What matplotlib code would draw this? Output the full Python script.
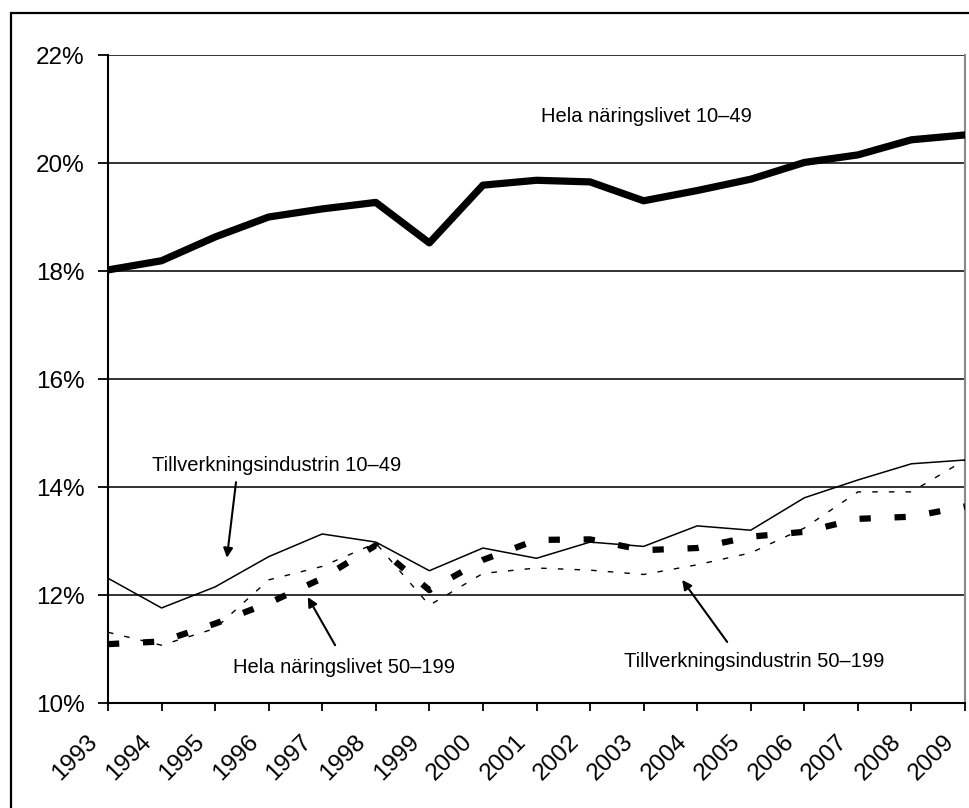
import numpy as np
import matplotlib.pyplot as plt
from matplotlib.patches import Rectangle
from matplotlib.transforms import ScaledTranslation

plt.rcParams['font.family'] = ['Liberation Sans', 'DejaVu Sans']

years = list(range(1993, 2010))

# andel (%) per serie
hela_10_49 = [18.02, 18.19, 18.63, 19.00, 19.15, 19.27, 18.52, 19.59, 19.68, 19.65,
              19.30, 19.49, 19.70, 20.01, 20.15, 20.43, 20.52]
tillv_10_49 = [12.31, 11.76, 12.15, 12.71, 13.13, 12.98, 12.45, 12.87, 12.68, 12.98,
               12.90, 13.28, 13.20, 13.80, 14.13, 14.43, 14.50]
hela_50_199 = [11.09, 11.14, 11.47, 11.85, 12.31, 12.92, 12.09, 12.65, 13.02, 13.03,
               12.83, 12.87, 13.08, 13.17, 13.41, 13.45, 13.64]
tillv_50_199 = [11.31, 11.07, 11.38, 12.28, 12.53, 12.96, 11.81, 12.40, 12.50, 12.46,
                12.38, 12.56, 12.78, 13.24, 13.91, 13.91, 14.50]

yticks = [10, 12, 14, 16, 18, 20, 22]

fig = plt.figure(figsize=(9.7, 8.08), dpi=100)
ax = fig.add_axes([108/970, 105/808, 857/970, 648/808])

# ram runt figuren
fig.patches.append(Rectangle((11/970, -0.1), 1.2, 1.1 - 13/808, transform=fig.transFigure,
                             fill=False, edgecolor='black', linewidth=1.6))

ax.plot(years, hela_10_49, color='black', lw=5.2, zorder=4)
ax.plot(years, tillv_10_49, color='black', lw=1.1, zorder=4)
ax.plot(years, hela_50_199, color='black', lw=4.5, linestyle=(0, (1.8, 3.8)), zorder=4)
ax.plot(years, tillv_50_199, color='black', lw=1.0, linestyle=(0, (4, 8)), zorder=4)

ax.set_xlim(1993, 2009)
ax.set_ylim(10, 22)
ax.set_yticks(yticks)
ax.set_yticklabels(['%d%%' % v for v in yticks], fontsize=17.5)
ax.set_xticks(years)
ax.set_xticklabels([str(y) for y in years], fontsize=17.5, rotation=45,
                   ha='right', va='top', rotation_mode='anchor')
ax.tick_params(axis='x', length=6, width=1.3, pad=14)
ax.tick_params(axis='y', length=7, width=1.3, pad=10)
shift = ScaledTranslation(-15.5/72, 0, fig.dpi_scale_trans)
for lab in ax.get_xticklabels():
    lab.set_transform(lab.get_transform() + shift)

for v in yticks[1:]:
    ax.axhline(v, color='#333333', lw=1.4, zorder=1)
ax.spines['top'].set_visible(False)
ax.spines['right'].set_color('#888888')
ax.spines['right'].set_linewidth(1.5)
ax.spines['left'].set_linewidth(1.5)
ax.spines['bottom'].set_linewidth(1.5)

fs = 14.5
ax.text(2003.06, 20.87, 'Hela näringslivet 10–49', fontsize=fs, ha='center', va='center')
ax.text(1996.14, 14.39, 'Tillverkningsindustrin 10–49', fontsize=fs, ha='center', va='center')
ax.text(1997.41, 10.65, 'Hela näringslivet 50–199', fontsize=fs, ha='center', va='center')
ax.text(2005.06, 10.76, 'Tillverkningsindustrin 50–199', fontsize=fs, ha='center', va='center')

arrow = dict(arrowstyle='-|>', color='black', lw=1.5, mutation_scale=14, shrinkA=0, shrinkB=0)
ax.annotate('', xy=(1995.22, 12.69), xytext=(1995.39, 14.09), arrowprops=arrow)
ax.annotate('', xy=(1996.73, 11.96), xytext=(1997.24, 11.07), arrowprops=arrow)
ax.annotate('', xy=(2003.72, 12.28), xytext=(2004.56, 11.13), arrowprops=arrow)

plt.savefig('out.png', dpi=100)
